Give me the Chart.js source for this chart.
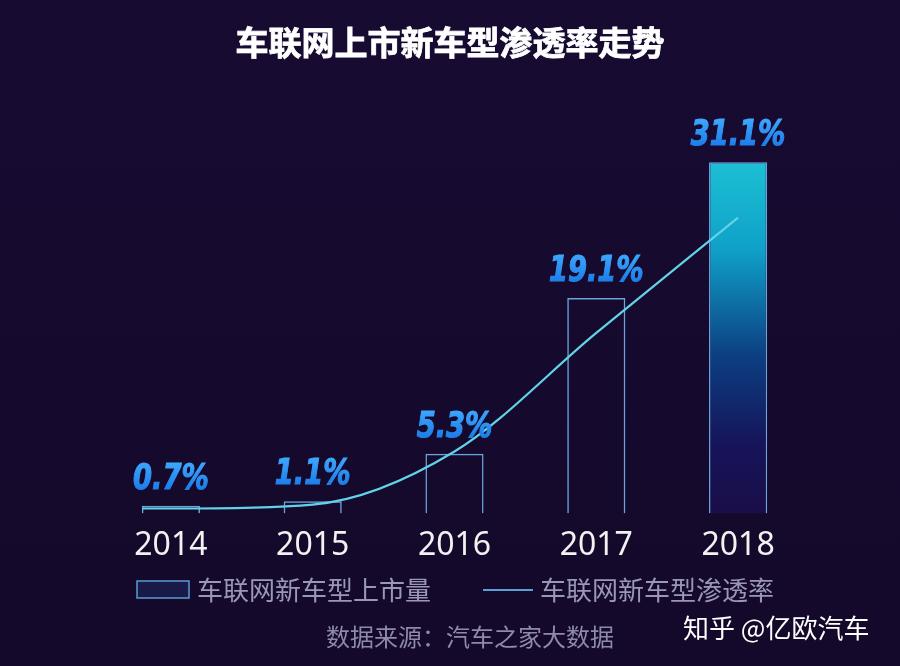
<!DOCTYPE html>
<html>
<head>
<meta charset="utf-8">
<script src="https://cdn.jsdelivr.net/npm/chart.js@4/dist/chart.umd.min.js"></script>
<style>
html,body{margin:0;padding:0;background:#150a2c;}
#wrap{width:900px;height:666px;position:relative;}
</style>
</head>
<body>
<div id="wrap"><canvas id="c" width="900" height="666"></canvas></div>
<script>
// ---- data ----
const categories = ['2014', '2015', '2016', '2017', '2018'];
const launchShare = [0.7, 1.1, 5.3, 19.1, 31.1];          // bar values (%)
const trendYears = [2013.8, 2014, 2015, 2016, 2017, 2018]; // penetration curve
const trendValues = [0.45, 0.45, 0.8, 5.5, 16.0, 26.2];
const titleText = '车联网上市新车型渗透率走势';
const legendBarText = '车联网新车型上市量';
const legendLineText = '车联网新车型渗透率';
const sourceText = '数据来源：汽车之家大数据';
const watermarkText = '知乎 @亿欧汽车';

const CJK = '"Noto Sans CJK SC", "Noto Sans", sans-serif';

const bgPlugin = {
  id: 'bg',
  beforeDraw(chart) {
    const c = chart.ctx;
    c.save();
    const g = c.createLinearGradient(0, 0, 0, chart.height);
    g.addColorStop(0, '#170b32');
    g.addColorStop(1, '#14092a');
    c.fillStyle = g;
    c.fillRect(0, 0, chart.width, chart.height);
    c.restore();
  }
};

const textPlugin = {
  id: 'texts',
  afterDatasetsDraw(chart) {
    const c = chart.ctx;
    const meta = chart.getDatasetMeta(0);
    meta.data.forEach((bar, i) => {
      const txt = launchShare[i].toFixed(1) + '%';
      c.save();
      c.translate(bar.x, bar.y - 17);
      c.scale(0.78, 1);
      c.font = 'italic bold 35px "DejaVu Sans", sans-serif';
      c.textAlign = 'center';
      c.textBaseline = 'alphabetic';
      const g = c.createLinearGradient(0, -27, 0, 0);
      g.addColorStop(0, '#3ea8ff');
      g.addColorStop(1, '#1d7ee8');
      c.fillStyle = g;
      c.strokeStyle = g;
      c.lineWidth = 1.2;
      c.fillText(txt, 0, 0);
      c.strokeText(txt, 0, 0);
      c.restore();
    });
  },
  afterDraw(chart) {
    const c = chart.ctx;
    c.save();
    // title
    c.fillStyle = '#ffffff';
    c.strokeStyle = '#ffffff';
    c.lineWidth = 0.8;
    c.font = 'bold 33px ' + CJK;
    c.textAlign = 'center';
    c.textBaseline = 'middle';
    c.fillText(titleText, 450, 42);
    c.strokeText(titleText, 450, 42);
    // legend
    c.textAlign = 'left';
    c.font = '26px ' + CJK;
    c.fillStyle = '#1a1a48';
    c.fillRect(137, 581, 52, 17);
    c.strokeStyle = '#5b9bd0';
    c.lineWidth = 1.5;
    c.strokeRect(137, 581, 52, 17);
    c.fillStyle = '#9a98b2';
    c.fillText(legendBarText, 197, 590);
    c.beginPath();
    c.moveTo(483, 590);
    c.lineTo(533, 590);
    c.strokeStyle = '#5a9fd6';
    c.lineWidth = 2;
    c.stroke();
    c.fillStyle = '#9a98b2';
    c.fillText(legendLineText, 540, 590);
    // source
    c.font = '24px ' + CJK;
    c.fillStyle = '#8e8aa8';
    c.textAlign = 'center';
    c.fillText(sourceText, 470, 637);
    // watermark
    c.font = '26px ' + CJK;
    c.fillStyle = '#ffffff';
    c.textAlign = 'left';
    c.fillText(watermarkText, 683, 628);
    c.restore();
  }
};

function barFill(ctx) {
  if (ctx.dataIndex !== categories.length - 1) return 'rgba(0,0,0,0)';
  const chart = ctx.chart;
  const area = chart.chartArea;
  if (!area) return '#18b8d0';
  const y = chart.scales.y;
  const top = y.getPixelForValue(launchShare[ctx.dataIndex]);
  const g = chart.ctx.createLinearGradient(0, top, 0, area.bottom);
  g.addColorStop(0, '#1cc0d4');
  g.addColorStop(0.25, '#10a0c8');
  g.addColorStop(0.55, '#0c3f82');
  g.addColorStop(0.8, '#16145a');
  g.addColorStop(1, '#1a0e48');
  return g;
}

new Chart(document.getElementById('c'), {
  type: 'bar',
  data: {
    labels: categories,
    datasets: [
      {
        type: 'bar',
        label: legendBarText,
        data: launchShare,
        backgroundColor: barFill,
        borderColor: '#6aa4da',
        borderWidth: 1.5,
        barPercentage: 0.41,
        categoryPercentage: 1,
        grouped: false,
        xAxisID: 'x',
        yAxisID: 'y',
        order: 2
      },
      {
        type: 'line',
        label: legendLineText,
        data: trendYears.map((yr, i) => ({ x: yr, y: trendValues[i] })),
        borderColor: '#62d2e6',
        borderWidth: 2.2,
        pointRadius: 0,
        fill: false,
        cubicInterpolationMode: 'monotone',
        xAxisID: 'xl',
        yAxisID: 'y',
        order: 1
      }
    ]
  },
  options: {
    responsive: false,
    animation: false,
    layout: { padding: { left: 100, right: 91, top: 107, bottom: 96 } },
    plugins: {
      legend: { display: false },
      title: { display: false },
      tooltip: { enabled: false }
    },
    scales: {
      x: {
        type: 'category',
        offset: true,
        grid: { display: false },
        border: { display: false },
        ticks: {
          color: '#f2f2f2',
          font: { family: '"Noto Sans", sans-serif', size: 32 },
          padding: 5
        }
      },
      xl: {
        type: 'linear',
        display: false,
        offset: false,
        min: 2013.5,
        max: 2018.5
      },
      y: {
        display: false,
        min: 0,
        max: 36
      }
    }
  },
  plugins: [bgPlugin, textPlugin]
});
</script>
</body>
</html>
